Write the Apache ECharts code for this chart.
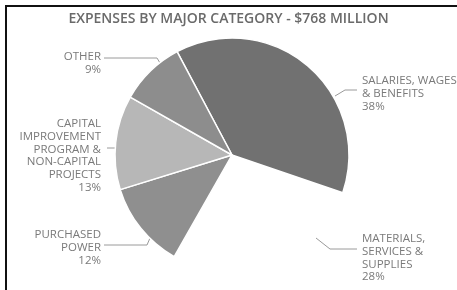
<!DOCTYPE html>
<html lang="en">
<head>
  <meta charset="UTF-8">
  <title>Expenses by major category</title>
  <style>
    html, body { margin: 0; padding: 0; background: #fff; }
    #chart { width: 457px; height: 290px; }
  </style>
</head>
<body>
  <div id="chart"></div>
  <script src="https://cdn.jsdelivr.net/npm/echarts@6/dist/echarts.min.js"></script>
  <script>
    // data
    var categories = ['SALARIES, WAGES\n& BENEFITS', 'MATERIALS,\nSERVICES &\nSUPPLIES', 'PURCHASED\nPOWER',
      'CAPITAL\nIMPROVEMENT\nPROGRAM &\nNON-CAPITAL\nPROJECTS', 'OTHER'];
    var shares = [38, 28, 12, 13, 9];
    var sliceColors = ['#717171', '#ffffff', '#8f8f8f', '#b7b7b7', '#8d8d8d'];

    // where each label sits (text anchor + leader line)
    var labelSpots = [
      { x: 362, y: 74, align: 'left', line: [[335, 96], [345, 90], [357, 90]] },
      { x: 362, y: 232, align: 'left', line: [[316, 238], [330, 249], [357, 249]] },
      { x: 101, y: 228, align: 'right', line: [[150, 238], [147, 245], [104, 245]] },
      { x: 101, y: 117, align: 'right', line: [[116, 148], [112, 148], [107, 148]] },
      { x: 101, y: 50, align: 'right', line: [[160, 63], [157, 58], [104, 58]] }
    ];

    var myChart = echarts.init(document.getElementById('chart'));

    var pieData = categories.map(function (name, i) {
      return {
        name: name,
        value: shares[i],
        itemStyle: { color: sliceColors[i], borderColor: '#fff', borderWidth: i === 1 ? 0 : 1.5 }
      };
    });

    var option = {
      backgroundColor: '#fff',
      animation: false,
      title: {
        text: 'EXPENSES BY MAJOR CATEGORY - $768 MILLION',
        left: 'center',
        top: 7,
        textStyle: {
          color: '#6a6a6a',
          fontFamily: 'Open Sans',
          fontWeight: 600,
          fontSize: 14
        }
      },
      graphic: [
        { type: 'line', shape: { x1: 6, y1: 5, x2: 6, y2: 290 }, style: { stroke: '#111', lineWidth: 2 } },
        { type: 'line', shape: { x1: 5, y1: 6, x2: 457, y2: 6 }, style: { stroke: '#111', lineWidth: 2 } }
      ],
      series: [{
        type: 'pie',
        center: [232, 155],
        radius: [0, 117],
        startAngle: 118,
        clockwise: true,
        silent: true,
        data: pieData,
        label: {
          show: true,
          position: 'outside',
          color: '#7a7a7a',
          fontFamily: 'Open Sans',
          fontSize: 11.5,
          lineHeight: 12.9,
          overflow: 'none',
          width: 200,
          formatter: function (p) {
            return p.name + '\n' + p.value + '%';
          }
        },
        labelLine: {
          show: true,
          lineStyle: { color: '#9a9a9a', width: 1 }
        },
        labelLayout: function (params) {
          var s = labelSpots[params.dataIndex];
          return {
            x: s.x,
            y: s.y,
            align: s.align,
            verticalAlign: 'top',
            labelLinePoints: s.line
          };
        }
      }]
    };

    myChart.setOption(option);
  </script>
</body>
</html>
